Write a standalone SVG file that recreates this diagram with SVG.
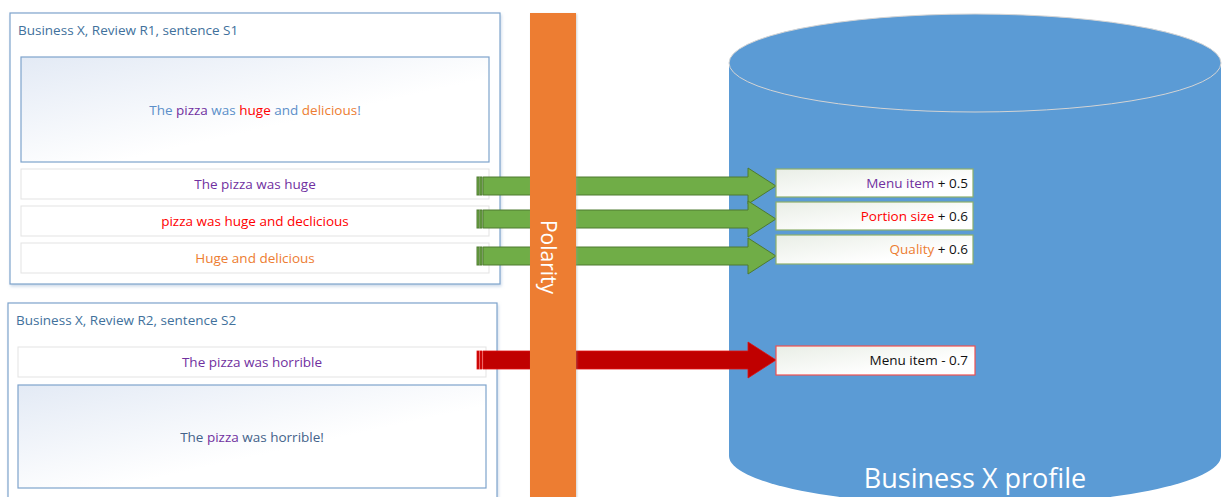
<svg xmlns="http://www.w3.org/2000/svg" width="1223" height="497" viewBox="0 0 1223 497">
<style>
text{font-family:"Open Sans","Liberation Sans",sans-serif}
.panel{fill:#fff;stroke:#7EA3CC;stroke-width:1.2;filter:url(#sh)}
.inner{fill:url(#gb);stroke:#7EA3CC;stroke-width:1.2}
.row{fill:#fff;stroke:#E3E3E3;stroke-width:1}
.title{font-size:13.5px;fill:#41719C}
.t{font-size:13.5px;text-anchor:middle}
.res{fill:url(#gg);stroke:#8DB06B;stroke-width:1.2}
.rt{font-size:13.5px;text-anchor:end;fill:#111}
.pu{fill:#7030A0}.rd{fill:#FF0000}.or{fill:#ED7D31}.bl{fill:#5B8FC9}.db{fill:#44628A}
.ga{fill:#70AD47;stroke:#4E7A31;stroke-width:1}
.ra{fill:#C00000;stroke:#E01010;stroke-width:0.8}
</style>
<defs>
<linearGradient id="gb" x1="0" y1="0" x2="1" y2="1"><stop offset="0" stop-color="#E3EAF5"/><stop offset="0.6" stop-color="#FFFFFF"/></linearGradient>
<linearGradient id="gg" x1="0" y1="0" x2="1" y2="1"><stop offset="0" stop-color="#E9EEE6"/><stop offset="0.7" stop-color="#FFFFFF"/></linearGradient>
<filter id="sh" x="-5%" y="-5%" width="110%" height="110%"><feDropShadow dx="1" dy="2" stdDeviation="1.5" flood-color="#9DB6D6" flood-opacity="0.5"/></filter>
<filter id="sh2" x="-20%" y="-5%" width="140%" height="110%"><feDropShadow dx="1" dy="1" stdDeviation="1.2" flood-color="#999" flood-opacity="0.45"/></filter>
</defs>

<g id="cylinder">
<path d="M729,63 L729,456 A246,49 0 0 0 1221,456 L1221,63 Z" fill="#5B9BD5"/>
<ellipse cx="975" cy="63" rx="246" ry="49" fill="#5B9BD5" stroke="#D4D4D4" stroke-width="1"/>
<text x="975" y="488" text-anchor="middle" style="font-size:27px;fill:#fff">Business X profile</text>
</g>

<g id="panel1">
<rect class="panel" x="10" y="13" width="490" height="271"/>
<text class="title" x="18" y="35">Business X, Review R1, sentence S1</text>
<rect class="inner" x="21" y="57" width="468" height="105"/>
<text class="t" x="255" y="115"><tspan class="bl">The </tspan><tspan class="pu">pizza</tspan><tspan class="bl"> was </tspan><tspan class="rd">huge</tspan><tspan class="bl"> and </tspan><tspan class="or">delicious</tspan><tspan class="bl">!</tspan></text>
<rect class="row" x="21" y="169" width="468" height="30"/>
<text class="t pu" x="255" y="189">The pizza was huge</text>
<rect class="row" x="21" y="206" width="468" height="30"/>
<text class="t rd" x="255" y="226">pizza was huge and declicious</text>
<rect class="row" x="21" y="243" width="468" height="30"/>
<text class="t or" x="255" y="263">Huge and delicious</text>
</g>

<g id="panel2">
<rect class="panel" x="8" y="303" width="489" height="200"/>
<text class="title" x="16" y="325">Business X, Review R2, sentence S2</text>
<rect class="row" x="18" y="347" width="468" height="30"/>
<text class="t pu" x="252" y="367">The pizza was horrible</text>
<rect class="inner" x="18" y="385" width="468" height="103"/>
<text class="t" x="252" y="442"><tspan class="db">The </tspan><tspan class="pu">pizza</tspan><tspan class="db"> was horrible!</tspan></text>
</g>

<g id="connectors">
<rect class="ga" x="477" y="177" width="2" height="18"/><rect class="ga" x="480" y="177" width="2" height="18"/>
<path class="ga" d="M483,177 L748,177 L748,168 L776,186 L748,204 L748,195 L483,195 Z"/>
<rect class="ga" x="477" y="210" width="2" height="18"/><rect class="ga" x="480" y="210" width="2" height="18"/>
<path class="ga" d="M483,210 L748,210 L748,201 L776,219 L748,237 L748,228 L483,228 Z"/>
<rect class="ga" x="477" y="247" width="2" height="18"/><rect class="ga" x="480" y="247" width="2" height="18"/>
<path class="ga" d="M483,247 L748,247 L748,238 L776,256 L748,274 L748,265 L483,265 Z"/>
<rect class="ra" x="477" y="351" width="2" height="18"/><rect class="ra" x="480" y="351" width="2" height="18"/>
<path class="ra" d="M483,351 L748,351 L748,342 L776,360 L748,378 L748,369 L483,369 Z"/>
</g>

<g id="polarity">
<rect x="530" y="13" width="46" height="490" fill="#ED7D31" filter="url(#sh2)"/>
<text transform="translate(541,257) rotate(90)" text-anchor="middle" style="font-size:21px;fill:#fff">Polarity</text>
</g>

<g id="res1"><rect class="res" x="776" y="169" width="197" height="28"/>
<text class="rt" x="968" y="188"><tspan class="pu">Menu item</tspan> + 0.5</text></g>
<g id="res2"><rect class="res" x="776" y="202" width="197" height="28"/>
<text class="rt" x="968" y="221"><tspan class="rd">Portion size</tspan> + 0.6</text></g>
<g id="res3"><rect class="res" x="776" y="235" width="197" height="29"/>
<text class="rt" x="968" y="254"><tspan class="or">Quality</tspan> + 0.6</text></g>
<g id="res4"><rect class="res" x="776" y="346" width="199" height="29" style="stroke:#F05050"/>
<text class="rt" x="968" y="365">Menu item - 0.7</text></g>
</svg>
